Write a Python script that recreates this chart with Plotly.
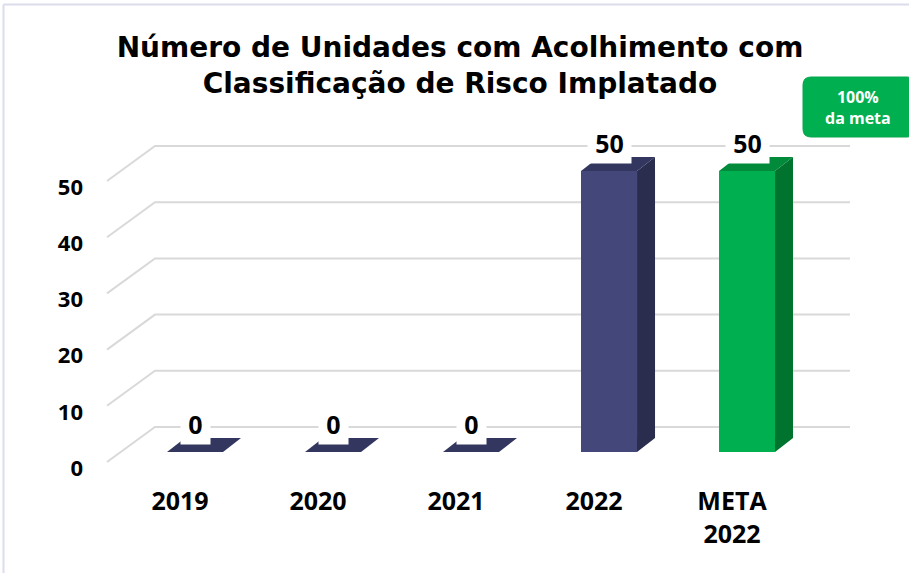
import plotly.graph_objects as go

# ---- data ----
categories = ["2019", "2020", "2021", "2022", "META<br>2022"]
values = [0, 0, 0, 50, 50]
y_ticks = [0, 10, 20, 30, 40, 50]
title_lines = ["Número de Unidades com Acolhimento com", "Classificação de Risco Implatado"]
badge_text = ["100%", "da meta"]

# ---- styling / geometry ----
W, H = 909, 573
L, R, T, B = 90, 860, 100, 480       # plot area in pixels
PX_X = 138.0                          # pixels per category
PX_Y = 5.62                           # pixels per unit value
x0_pix = 180.0                        # pixel of category 0
y0_pix = 452.0                        # pixel of value 0 (bar front plane)
xmin = (L - x0_pix) / PX_X
xmax = (R - x0_pix) / PX_X
ymax = (y0_pix - T) / PX_Y
ymin = -(B - y0_pix) / PX_Y

bar_w = 56 / PX_X
bar_off = -0.094
dx = 18 / PX_X
dz = 14 / PX_Y

front_cols = ["#434779"] * 4 + ["#00B050"]
side_cols = ["#2A2D4E"] * 4 + ["#00732F"]
top_cols = ["#33365F"] * 4 + ["#008A3A"]

grid_front_x = (107 - x0_pix) / PX_X
grid_back_x = (155 - x0_pix) / PX_X
grid_end_x = (850 - x0_pix) / PX_X
grid_front_dy = -10 / PX_Y
grid_back_dy = 25 / PX_Y
label_shift = 16 / PX_Y

xs = list(range(len(categories)))

fig = go.Figure()

shapes = []
# gridlines (3D wall)
for t in y_ticks:
    shapes.append(dict(
        type="path", xref="x", yref="y",
        path=f"M {grid_front_x},{t + grid_front_dy} L {grid_back_x},{t + grid_back_dy} L {grid_end_x},{t + grid_back_dy}",
        line=dict(color="#D9D9D9", width=2), layer="below"))

# 3D bar side and top faces
for i, v in zip(xs, values):
    xl = i + bar_off
    xr = xl + bar_w
    if v > 0:
        shapes.append(dict(
            type="path", xref="x", yref="y",
            path=f"M {xr},0 L {xr + dx},{dz} L {xr + dx},{v + dz} L {xr},{v} Z",
            fillcolor=side_cols[i], line=dict(width=0), layer="above"))
    shapes.append(dict(
        type="path", xref="x", yref="y",
        path=f"M {xl},{v} L {xr},{v} L {xr + dx},{v + dz} L {xl + dx},{v + dz} Z",
        fillcolor=top_cols[i], line=dict(width=0), layer="above"))


def px(xp):
    return (xp - L) / (R - L)


def py(yp):
    return (B - yp) / (B - T)


# frame border
shapes.append(dict(type="line", xref="paper", yref="paper",
                   x0=px(3.5), x1=px(3.5), y0=py(H + 5), y1=py(4.5),
                   line=dict(color="#DCDCEC", width=2)))
shapes.append(dict(type="line", xref="paper", yref="paper",
                   x0=px(3.5), x1=px(W + 5), y0=py(4.5), y1=py(4.5),
                   line=dict(color="#DCDCEC", width=2)))

# badge (rounded rectangle) in paper coords
bx0, bx1, by0, by1, r = 803, 915, 77, 137, 8
badge_path = (
    f"M {px(bx0 + r)},{py(by0)} L {px(bx1 - r)},{py(by0)} "
    f"Q {px(bx1)},{py(by0)} {px(bx1)},{py(by0 + r)} L {px(bx1)},{py(by1 - r)} "
    f"Q {px(bx1)},{py(by1)} {px(bx1 - r)},{py(by1)} L {px(bx0 + r)},{py(by1)} "
    f"Q {px(bx0)},{py(by1)} {px(bx0)},{py(by1 - r)} L {px(bx0)},{py(by0 + r)} "
    f"Q {px(bx0)},{py(by0)} {px(bx0 + r)},{py(by0)} Z")
shapes.append(dict(type="path", xref="paper", yref="paper", path=badge_path,
                   fillcolor="#00B050", line=dict(color="#07A64C", width=1), layer="above"))

fig.add_trace(go.Bar(
    x=xs, y=values, width=bar_w, offset=bar_off,
    marker=dict(color=front_cols, line=dict(width=0)),
    hoverinfo="skip", showlegend=False))

# invisible trace to activate the label axis
fig.add_trace(go.Scatter(x=[xs[0]], y=[0], yaxis="y2", mode="markers",
                         marker=dict(opacity=0), hoverinfo="skip", showlegend=False))

annotations = []
for i, v in zip(xs, values):
    annotations.append(dict(
        x=i + bar_off + bar_w / 2, y=v, xref="x", yref="y",
        text=f"<b>\u2009{v}\u2009</b>", showarrow=False, yshift=28,
        font=dict(family="Open Sans, DejaVu Sans, sans-serif", size=25, color="#000000"),
        bgcolor="#FFFFFF", borderpad=3, xanchor="center", yanchor="middle"))

annotations.append(dict(
    x=px(858), y=py(108), xref="paper", yref="paper",
    text="<b>" + "<br>".join(badge_text) + "</b>", showarrow=False,
    font=dict(family="Open Sans, sans-serif", size=16, color="#FFFFFF"),
    xanchor="center", yanchor="middle", align="center"))

fig.update_layout(
    width=W, height=H, autosize=False,
    margin=dict(l=L, r=W - R, t=T, b=H - B, pad=0),
    paper_bgcolor="#FFFFFF", plot_bgcolor="rgba(0,0,0,0)",
    title=dict(text="<b>" + "<br>".join(title_lines) + "</b>",
               x=460 / W, xanchor="center", xref="container",
               y=1 - 57 / H, yanchor="middle", yref="container",
               font=dict(family="DejaVu Sans, sans-serif", size=28, color="#000000")),
    xaxis=dict(range=[xmin, xmax], tickmode="array", tickvals=xs, ticktext=categories,
               showgrid=False, zeroline=False, showline=False, ticks="",
               ticklabelstandoff=4,
               tickfont=dict(family="Open Sans, sans-serif", size=25, color="#000000", weight="bold")),
    yaxis=dict(range=[ymin, ymax], visible=False, showgrid=False, zeroline=False),
    yaxis2=dict(range=[ymin + label_shift, ymax + label_shift], overlaying="y", side="left",
                tickmode="array", tickvals=y_ticks, ticktext=[str(t) for t in y_ticks],
                showgrid=False, zeroline=False, showline=False, ticks="",
                ticklabelstandoff=6,
                tickfont=dict(family="Open Sans, sans-serif", size=22, color="#000000", weight="bold")),
    shapes=shapes, annotations=annotations, bargap=0,
)

fig.write_html("out.html", config={"displayModeBar": False},
               post_script="document.body.style.margin='0';")
